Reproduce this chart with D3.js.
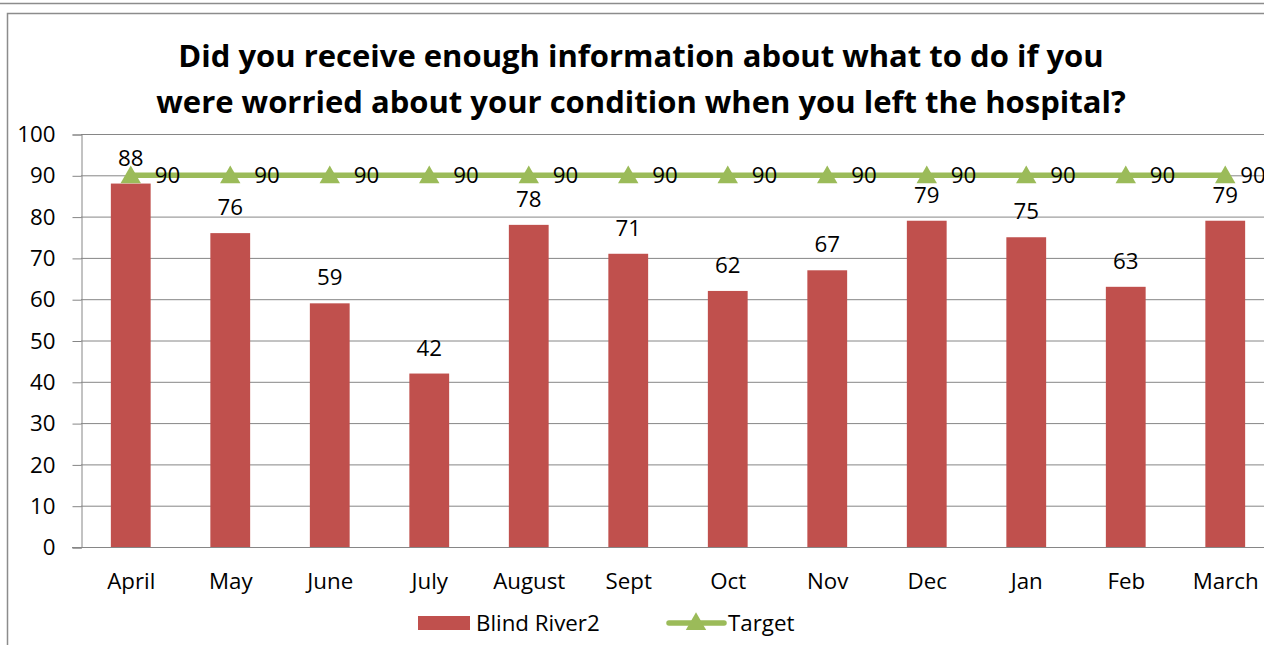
<!DOCTYPE html>
<html>
<head>
<meta charset="utf-8">
<script src="https://cdn.jsdelivr.net/npm/d3@7"></script>
<style>
  body { margin: 0; background: #fff; }
  svg { display: block; font-family: "Open Sans", "DejaVu Sans", sans-serif; }
</style>
</head>
<body>
<svg id="chart" width="1264" height="645"></svg>
<script>
const months = ['April', 'May', 'June', 'July', 'August', 'Sept', 'Oct', 'Nov', 'Dec', 'Jan', 'Feb', 'March'];
const blindRiver = [88, 76, 59, 42, 78, 71, 62, 67, 79, 75, 63, 79];
const target = [90, 90, 90, 90, 90, 90, 90, 90, 90, 90, 90, 90];
const yTicks = [0, 10, 20, 30, 40, 50, 60, 70, 80, 90, 100];
const titleLines = [
  'Did you receive enough information about what to do if you',
  'were worried about your condition when you left the hospital?'
];

const BAR = '#C0504D';
const LINE = '#9BBB59';
const GRID = '#868686';
const FS = 22.3;

const svg = d3.select('#chart');

// outer frames
svg.append('line').attr('x1', 0).attr('x2', 1264).attr('y1', 3.5).attr('y2', 3.5)
  .attr('stroke', '#8c8c8c').attr('stroke-width', 1.5);
svg.append('rect').attr('x', 7.5).attr('y', 13.5).attr('width', 1300).attr('height', 700)
  .attr('fill', 'none').attr('stroke', '#8c8c8c').attr('stroke-width', 1.5);

// title
svg.append('g').selectAll('text').data(titleLines).enter().append('text')
  .attr('x', 641).attr('y', (d, i) => 67 + i * 46)
  .attr('text-anchor', 'middle').attr('font-weight', 'bold').attr('font-size', 31)
  .attr('fill', '#000').text((d) => d);

const left = 81;
const step = 99.5;
const x = d3.scaleBand().domain(months).range([left, left + step * months.length]).paddingInner(0.6).paddingOuter(0.3);
const xc = (m) => x(m) + x.bandwidth() / 2;
const y = d3.scaleLinear().domain([0, 100]).range([547, 134]);

// gridlines
svg.append('g').selectAll('line').data(yTicks.filter((t) => t > 0)).enter().append('line')
  .attr('x1', left).attr('x2', 1264).attr('y1', (d) => y(d) + 0.5).attr('y2', (d) => y(d) + 0.5)
  .attr('stroke', GRID).attr('stroke-width', 1);

// y axis
const yAxis = svg.append('g').attr('transform', `translate(${left + 0.5},0.5)`)
  .call(d3.axisLeft(y).tickValues(yTicks).tickSize(9).tickPadding(17));
yAxis.select('.domain').attr('stroke', GRID);
yAxis.selectAll('.tick line').attr('stroke', GRID);
yAxis.selectAll('.tick text').attr('font-size', FS).attr('fill', '#000')
  .attr('font-family', '"Open Sans", sans-serif');

// x axis
const xAxis = svg.append('g').attr('transform', `translate(0,${y(0) + 0.5})`)
  .call(d3.axisBottom(d3.scalePoint().domain(months).range([xc(months[0]), xc(months[11])])).tickSize(0).tickPadding(26));
xAxis.select('.domain').remove();
xAxis.append('line').attr('x1', left - 9).attr('x2', 1264).attr('stroke', GRID);
xAxis.selectAll('.tick text').attr('font-size', FS).attr('fill', '#000')
  .attr('font-family', '"Open Sans", sans-serif');

// bars
svg.append('g').selectAll('rect').data(months).enter().append('rect')
  .attr('x', (m) => x(m)).attr('width', x.bandwidth())
  .attr('y', (m, i) => y(blindRiver[i])).attr('height', (m, i) => y(0) - y(blindRiver[i]))
  .attr('fill', BAR);

// target line
const line = d3.line().x((d, i) => xc(months[i])).y((d) => y(d));
svg.append('path').datum(target).attr('d', line).attr('fill', 'none')
  .attr('stroke', LINE).attr('stroke-width', 5.5);
const tri = d3.symbol().type(d3.symbolTriangle).size(180);
svg.append('g').selectAll('path').data(target).enter().append('path')
  .attr('d', tri).attr('fill', LINE)
  .attr('transform', (d, i) => `translate(${xc(months[i])},${y(d) + 2})`);

// labels
svg.append('g').selectAll('text').data(blindRiver).enter().append('text')
  .attr('x', (d, i) => xc(months[i])).attr('y', (d) => y(d) - 18)
  .attr('text-anchor', 'middle').attr('font-size', FS).attr('fill', '#000').text((d) => d);
// last target label is nudged left, as Excel does at the plot edge
svg.append('g').selectAll('text').data(target).enter().append('text')
  .attr('x', (d, i) => xc(months[i]) + (i === target.length - 1 ? 15 : 24)).attr('y', (d) => y(d) + 8)
  .attr('font-size', FS).attr('fill', '#000').text((d) => d);

// legend
const lg = svg.append('g');
lg.append('rect').attr('x', 418).attr('y', 616).attr('width', 52).attr('height', 14).attr('fill', BAR);
lg.append('text').attr('x', 476).attr('y', 631).attr('font-size', FS).text('Blind River2');
lg.append('line').attr('x1', 669).attr('x2', 724).attr('y1', 623).attr('y2', 623)
  .attr('stroke', LINE).attr('stroke-width', 5.5).attr('stroke-linecap', 'round');
lg.append('path').attr('d', tri).attr('fill', LINE).attr('transform', 'translate(696,624)');
lg.append('text').attr('x', 728).attr('y', 631).attr('font-size', FS).text('Target');
</script>
</body>
</html>
